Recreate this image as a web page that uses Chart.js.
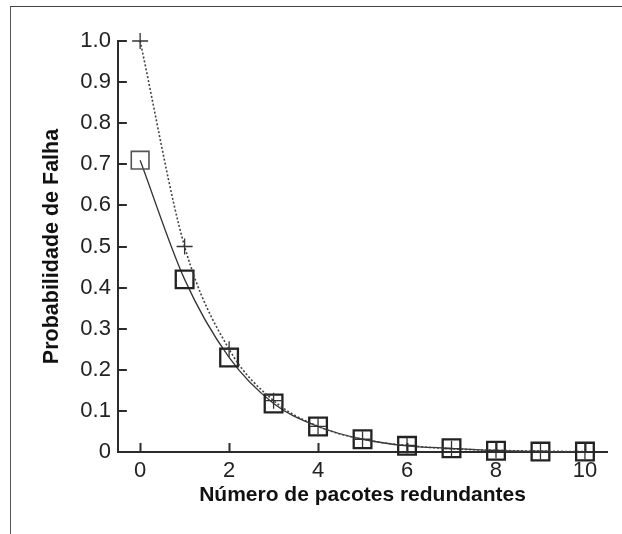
<!DOCTYPE html>
<html>
<head>
<meta charset="utf-8">
<script src="https://cdn.jsdelivr.net/npm/chart.js@4"></script>
<style>
  html, body { margin: 0; padding: 0; background: #fff; }
  #quadro {
    position: absolute; left: 10px; top: 6px; width: 700px; height: 600px;
    border-top: 1.5px solid #444; border-left: 1.5px solid #555;
  }
  #caixa { position: absolute; left: 0; top: 0; width: 622px; height: 534px; }
</style>
</head>
<body>
<div id="quadro"></div>
<div id="caixa"><canvas id="grafico-falha"></canvas></div>
<script>
// pacotes redundantes (eixo x)
const pacotes = [0, 1, 2, 3, 4, 5, 6, 7, 8, 9, 10];
// curva pontilhada, marcador "+"
const probCruz = [1.0, 0.5, 0.25, 0.125, 0.0625, 0.031, 0.016, 0.008, 0.004, 0.002, 0.001];
// curva continua, marcador quadrado
const probQuadrado = [0.71, 0.42, 0.23, 0.118, 0.062, 0.031, 0.015, 0.009, 0.003, 0.001, 0.001];

const ticksX = [0, 2, 4, 6, 8, 10];
const ticksY = [0, 0.1, 0.2, 0.3, 0.4, 0.5, 0.6, 0.7, 0.8, 0.9, 1.0];

const corEixo = "#2b2b2b";
const fonte = "Liberation Sans, Arial";

// tracinhos dos eixos virados para dentro
const marcasInternas = {
    id: "marcasInternas",
    afterDraw(chart) {
        const ctx = chart.ctx;
        const x = chart.scales.x;
        const y = chart.scales.y;
        ctx.save();
        ctx.strokeStyle = corEixo;
        ctx.lineWidth = 2;
        ctx.beginPath();
        ticksX.forEach(v => {
            const px = Math.round(x.getPixelForValue(v)) + 0.5;
            ctx.moveTo(px, y.bottom);
            ctx.lineTo(px, y.bottom - 9);
        });
        ticksY.forEach(v => {
            const py = Math.round(y.getPixelForValue(v));
            ctx.moveTo(x.left, py);
            ctx.lineTo(x.left + 9, py);
        });
        ctx.stroke();
        ctx.restore();
    }
};

const pontos = pacotes.map((p, i) => ({ x: p, y: probCruz[i] }));
const quadrados = pacotes.map((p, i) => ({ x: p, y: probQuadrado[i] }));

new Chart(document.getElementById("grafico-falha"), {
    type: "line",
    data: {
        datasets: [
            {
                label: "cruz",
                data: pontos,
                borderColor: "#444",
                borderWidth: 1.6,
                borderDash: [2, 2],
                cubicInterpolationMode: "monotone",
                pointStyle: "cross",
                pointRadius: 8,
                pointBorderWidth: 1.3,
                pointBorderColor: "#333",
                clip: false,
                order: 1
            },
            {
                label: "quadrado",
                data: quadrados,
                borderColor: "#333",
                borderWidth: 1.3,
                cubicInterpolationMode: "monotone",
                pointStyle: "rect",
                pointRadius: 12.5,
                pointBorderWidth: [1.6, 2.3, 2.3, 2.3, 2.3, 2.3, 2.3, 2.3, 2.3, 2.3, 2.3],
                pointBorderColor: ["#555", "#222", "#222", "#222", "#222", "#222", "#222", "#222", "#222", "#222", "#222"],
                pointBackgroundColor: "rgba(0,0,0,0)",
                clip: false,
                order: 2
            }
        ]
    },
    options: {
        responsive: true,
        maintainAspectRatio: false,
        animation: false,
        events: [],
        layout: { padding: { left: 35, right: 7, top: 41, bottom: 16 } },
        plugins: {
            legend: { display: false },
            tooltip: { enabled: false }
        },
        scales: {
            x: {
                type: "linear",
                min: -0.5,
                max: 10.5,
                afterBuildTicks: s => { s.ticks = ticksX.map(v => ({ value: v })); },
                grid: { display: false, drawTicks: false },
                border: { display: true, color: corEixo, width: 2 },
                ticks: {
                    padding: 6,
                    color: "#222",
                    font: { family: fonte, size: 22 }
                },
                title: {
                    display: true,
                    text: "Número de pacotes redundantes",
                    color: "#111",
                    padding: { top: -8, bottom: 10.4 },
                    font: { family: fonte, size: 21, weight: "bold" }
                }
            },
            y: {
                min: 0,
                max: 1,
                afterBuildTicks: s => { s.ticks = ticksY.map(v => ({ value: v })); },
                grid: { display: false, drawTicks: false },
                border: { display: true, color: corEixo, width: 2 },
                ticks: {
                    padding: 7,
                    color: "#222",
                    font: { family: fonte, size: 22 },
                    callback: v => v === 0 ? "0" : v.toFixed(1)
                },
                title: {
                    display: true,
                    text: "Probabilidade de Falha",
                    color: "#111",
                    padding: { top: 4, bottom: 8.5 },
                    font: { family: fonte, size: 21.5, weight: "bold" }
                }
            }
        }
    },
    plugins: [marcasInternas]
});
</script>
</body>
</html>
